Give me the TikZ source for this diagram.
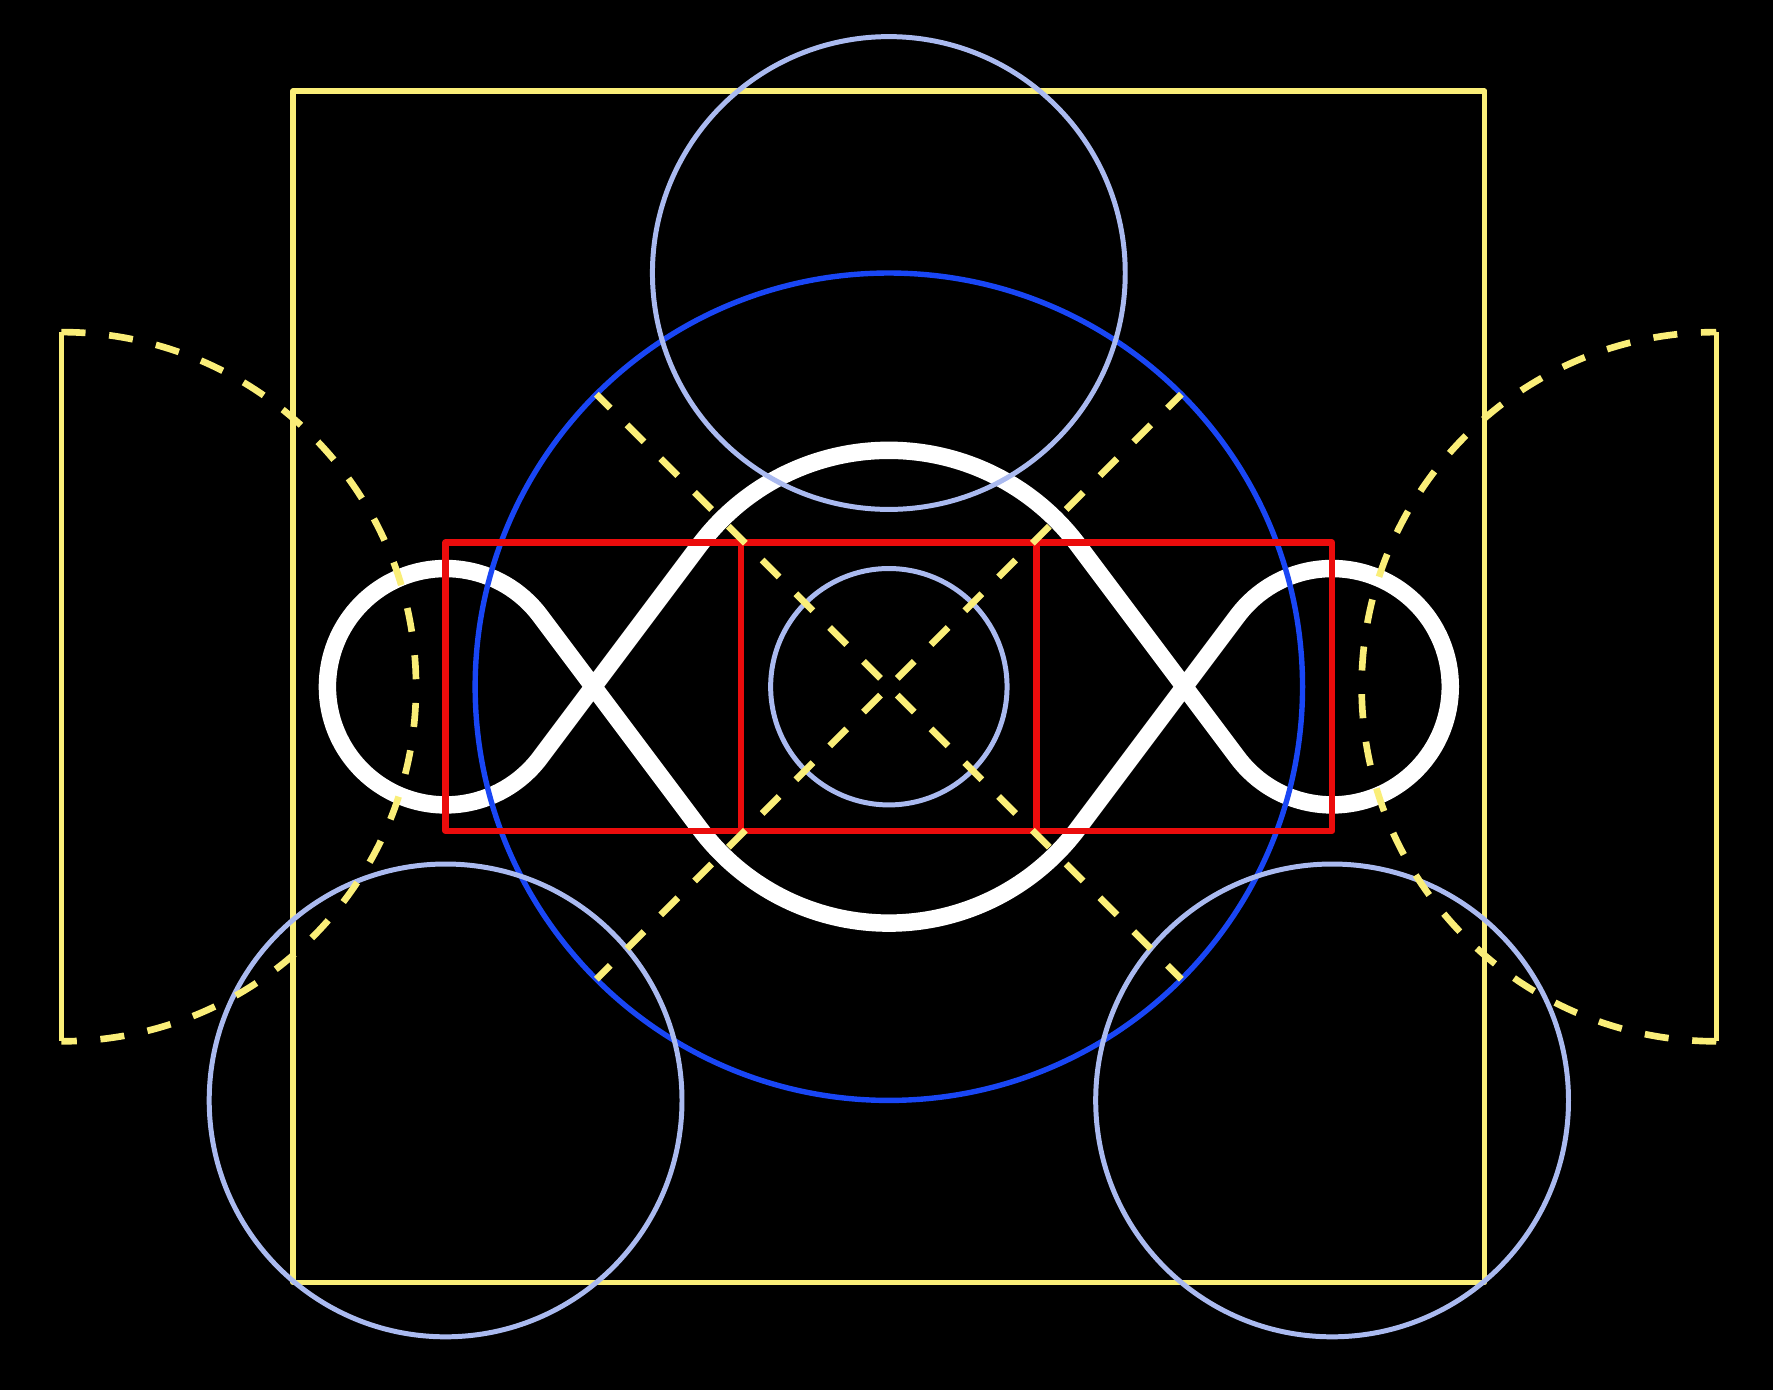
\documentclass[tikz,border=0pt]{standalone}
\usepackage{tikz}
\definecolor{goldline}{RGB}{250,238,120}
\definecolor{deepblue}{RGB}{25,70,245}
\definecolor{paleblue}{RGB}{170,186,240}
\definecolor{redline}{RGB}{235,12,12}

\begin{document}
\begin{tikzpicture}[x = 1cm, y = 1cm, line join = round,
    guide/.style = {draw = goldline, line width = 1.3pt},
    guidedash/.style = {draw = goldline, line width = 1.6pt, dash pattern = on 5.8pt off 5.7pt},
    bigring/.style = {draw = deepblue, line width = 1.3pt},
    ring/.style = {draw = paleblue, line width = 1.2pt},
    cell/.style = {draw = redline, line width = 1.5pt},
    knot/.style = {draw = white, line width = 4.2pt}]
    \fill[black] (-7.52,-5.95) rectangle (7.48,5.81);
    \useasboundingbox (-7.52,-5.95) rectangle (7.48,5.81);
    \coordinate (O)		at (0,0);
    \coordinate (T)		at (0,3.5);
    \coordinate (BL)	at (-3.75,-3.5);
    \coordinate (BR)	at (3.75,-3.5);
    \draw[guide]	(-5.04,-5.04) rectangle (5.04,5.04);
    \draw[knot]		(-2.95,0.6) arc[start angle = 36.87, end angle = 323.13, radius = 1]
        -- (-1.6,1.2) arc[start angle = 143.13, end angle = 36.87, radius = 2]
        -- (2.95,-0.6) arc[start angle = 216.87, end angle = 503.13, radius = 1]
        -- (1.6,-1.2) arc[start angle = -36.87, end angle = -143.13, radius = 2]
        -- cycle;
    \draw[bigring]	(O) circle[radius = 3.5];
    \foreach \c in {T, BL, BR}
        \draw[ring]	(\c) circle[radius = 2];
    \draw[ring]		(O) circle[radius = 1];
    \foreach \x in {-2.5, 0, 2.5}
        \draw[cell]	({\x-1.25},-1.22) rectangle ({\x+1.25},1.22);
    \foreach \a in {45, 135, 225, 315}
        \draw[guidedash, dash phase = 8.65pt]	(O) -- (\a:3.5);
    \draw[guide]		(-7,3) -- (-7,-3);
    \draw[guidedash]	(-7,3) arc[start angle = 90, end angle = -90, radius = 3];
    \draw[guide]		(7,3) -- (7,-3);
    \draw[guidedash]	(7,-3) arc[start angle = 270, end angle = 90, radius = 3];
\end{tikzpicture}
\end{document}
